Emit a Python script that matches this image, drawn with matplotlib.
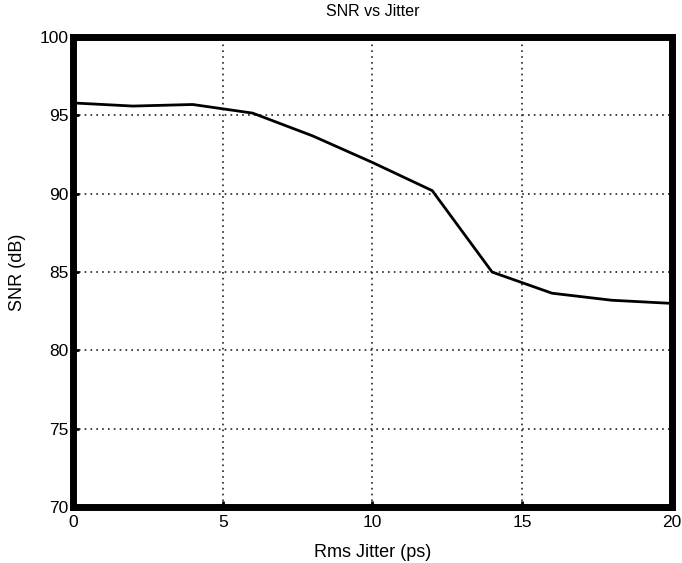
import matplotlib.pyplot as plt

jitter = [0, 2, 4, 6, 8, 10, 12, 14, 16, 18, 20]
snr = [95.8, 95.6, 95.7, 95.15, 93.7, 92.0, 90.2, 85.0, 83.65, 83.2, 83.0]

xticks = [0, 5, 10, 15, 20]
yticks = [70, 75, 80, 85, 90, 95, 100]

plt.rcParams['font.family'] = ['Liberation Sans', 'DejaVu Sans']

fig = plt.figure(figsize=(6.82, 5.63), dpi=100)
ax = fig.add_axes([0.107, 0.0995, 0.878, 0.8345])

ax.plot(jitter, snr, color='black', linewidth=2.0)

ax.set_xlim(0, 20)
ax.set_ylim(70, 100)
ax.set_xticks(xticks)
ax.set_yticks(yticks)
ax.tick_params(direction='in', length=4, width=2, labelsize=12.5)
ax.tick_params(axis='x', pad=6)
ax.tick_params(axis='y', pad=3)
ax.grid(True, color='#222222', linestyle=(0, (1, 2.5)), linewidth=1.2)

for s in ax.spines.values():
    s.set_linewidth(5)

ax.set_xlabel('Rms Jitter (ps)', fontsize=13, labelpad=10)
ax.set_ylabel('SNR (dB)', fontsize=13, labelpad=10)
ax.set_title('SNR vs Jitter', fontsize=11.5, pad=15)

fig.savefig('out.png', dpi=100)
